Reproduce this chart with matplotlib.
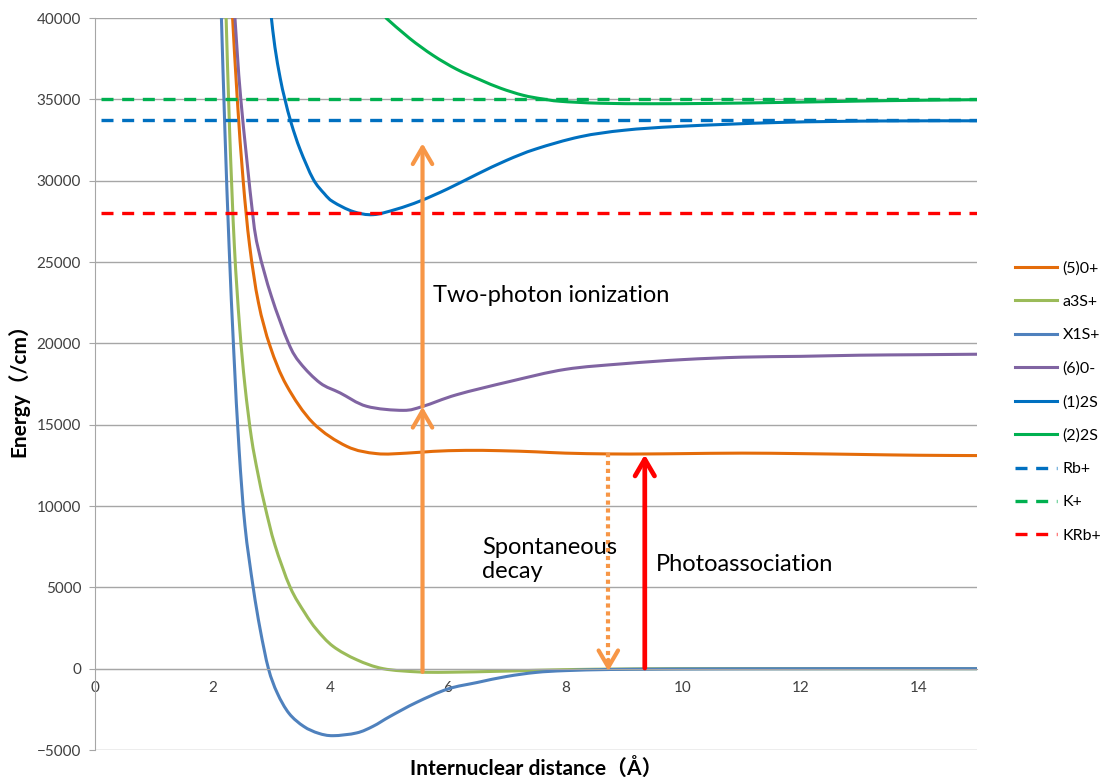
import matplotlib.pyplot as plt
import numpy as np
from matplotlib.path import Path
from matplotlib.patches import PathPatch
from matplotlib.lines import Line2D

# potential curves (x in Angstrom, energy in /cm)
x_50p = [2.34, 2.42, 2.52, 2.63, 2.78, 2.98, 3.26, 3.71, 4.28, 4.79, 5.3, 5.75, 6.3, 6.89,
         7.5, 8.0, 8.75, 9.4, 10, 11, 12, 13, 14, 15]
e_50p = [40000, 35000, 30000, 26000, 22500, 19800, 17400, 15100, 13670, 13220, 13250, 13360,
         13420, 13400, 13330, 13250, 13200, 13200, 13220, 13250, 13220, 13170, 13120, 13100]

x_a3s = [2.23, 2.29, 2.37, 2.46, 2.55, 2.66, 2.77, 2.89, 3.06, 3.32, 3.57, 3.77, 4.05, 4.45,
         4.9, 5.5, 6.0, 7, 8, 9, 10, 12, 15]
e_a3s = [40000, 33000, 26000, 21000, 17400, 14200, 12000, 10000, 7600, 5000, 3420, 2400,
         1370, 550, 0, -200, -220, -150, -60, -20, 0, 0, 0]

x_x1s = [2.15, 2.21, 2.28, 2.36, 2.45, 2.55, 2.69, 2.81, 2.95, 3.10, 3.30, 3.55, 3.80, 4.05,
         4.45, 4.73, 5.02, 5.47, 6.0, 6.5, 7.0, 7.5, 8.0, 8.75, 9.5, 10, 11, 12, 13, 15]
e_x1s = [40000, 33000, 26000, 19500, 13500, 8800, 5000, 2400, 0, -1500, -2750, -3550, -3970,
         -4120, -3950, -3540, -2930, -2070, -1250, -850, -480, -230, -120, -50, -30, -20,
         -10, -5, 0, 0]

x_60m = [2.38, 2.48, 2.68, 2.78, 3.0, 3.29, 3.49, 3.83, 4.17, 4.62, 5.24, 5.58, 6.15,
         7.06, 8, 9, 10, 11, 12, 13, 14, 15]
e_60m = [40000, 35000, 28000, 25760, 22890, 20020, 18790, 17560, 16950, 16130, 15880,
         16130, 16840, 17660, 18400, 18750, 19000, 19150, 19200, 19270, 19300, 19330]

x_12s = [3.0, 3.06, 3.15, 3.23, 3.34, 3.49, 3.71, 3.9, 4.05, 4.39, 4.73, 5.13, 5.53, 6.0,
         6.5, 7.0, 7.5, 8.25, 9.0, 9.95, 11.65, 13.35, 15]
e_12s = [40000, 38200, 36300, 35000, 33500, 31900, 30100, 29200, 28700, 28100, 27910, 28250,
         28750, 29500, 30400, 31250, 31950, 32700, 33100, 33340, 33580, 33670, 33680]

x_22s = [4.95, 5.35, 5.75, 6.15, 6.55, 6.9, 7.28, 7.6, 7.91, 8.59, 9.5, 10.5, 11.5, 12.5,
         13.5, 15]
e_22s = [40000, 38750, 37700, 36850, 36200, 35680, 35250, 35030, 34880, 34760, 34730, 34750,
         34800, 34860, 34920, 34980]

# ion thresholds
x_ion = [0.1, 15]
e_rb = 33700
e_k = 35000
e_krb = 28000

# transitions
x_two = 5.57
e_two = [-200, 16100, 32300]
x_decay = 8.73
e_decay = [13260, -160]
x_pa = 9.35
e_pa = [40, 13160]

plt.rcParams['font.family'] = ['Lato', 'Noto Sans CJK SC', 'DejaVu Sans']


def smooth_path(xs, ys):
    # Excel-like smoothed line: cubic Bezier segments through the points
    p = np.column_stack([xs, ys]).astype(float)
    n = len(p)
    verts = [p[0]]
    codes = [Path.MOVETO]
    for i in range(n - 1):
        p0 = p[i - 1] if i > 0 else p[i]
        p3 = p[i + 2] if i + 2 < n else p[i + 1]
        c1 = p[i] + (p[i + 1] - p0) / 6
        c2 = p[i + 1] - (p3 - p[i]) / 6
        verts += [c1, c2, p[i + 1]]
        codes += [Path.CURVE4] * 3
    return Path(verts, codes)


fig = plt.figure(figsize=(11.07, 7.80), dpi=100)
ax = fig.add_axes([95/1107, 1 - 750/780, (977 - 95)/1107, (750 - 18)/780])

lw = 2.2
curves = [(x_50p, e_50p, '#E46C0A', '(5)0+'),
          (x_a3s, e_a3s, '#9BBB59', 'a3S+'),
          (x_x1s, e_x1s, '#4F81BD', 'X1S+'),
          (x_60m, e_60m, '#8064A2', '(6)0-'),
          (x_12s, e_12s, '#0070C0', '(1)2S'),
          (x_22s, e_22s, '#00B050', '(2)2S')]
handles = []
for xs, es, c, name in curves:
    ax.add_patch(PathPatch(smooth_path(xs, es), fill=False, edgecolor=c, lw=lw,
                           capstyle='round', joinstyle='round'))
    handles.append(Line2D([], [], color=c, lw=lw, label=name))

for e, c, name in [(e_rb, '#0070C0', 'Rb+'), (e_k, '#00B050', 'K+'), (e_krb, '#FF0000', 'KRb+')]:
    h, = ax.plot(x_ion, [e, e], color=c, lw=2.4, dashes=(3.6, 2.6), label=name)
    handles.append(h)

head = '->,head_length=0.6,head_width=0.35'
orange = '#F79646'
# two-photon ionization
ax.annotate('', xy=(x_two, e_two[1]), xytext=(x_two, e_two[0]),
            arrowprops=dict(arrowstyle=head, color=orange, lw=3, mutation_scale=20,
                            shrinkA=0, shrinkB=0))
ax.annotate('', xy=(x_two, e_two[2]), xytext=(x_two, e_two[1]),
            arrowprops=dict(arrowstyle=head, color=orange, lw=3, mutation_scale=20,
                            shrinkA=0, shrinkB=0))
# spontaneous decay (dotted shaft, solid head)
ax.plot([x_decay, x_decay], [e_decay[0], e_decay[1] + 600], color=orange, lw=3,
        linestyle=(0, (1, 0.9)))
ax.annotate('', xy=(x_decay, e_decay[1]), xytext=(x_decay, e_decay[1] + 700),
            arrowprops=dict(arrowstyle=head, color=orange, lw=3, mutation_scale=20,
                            shrinkA=0, shrinkB=0))
# photoassociation
ax.annotate('', xy=(x_pa, e_pa[1]), xytext=(x_pa, e_pa[0]),
            arrowprops=dict(arrowstyle=head, color='#FF0000', lw=3.4, mutation_scale=20,
                            shrinkA=0, shrinkB=0))

ax.text(5.75, 22930, 'Two-photon ionization', fontsize=17, va='center')
ax.text(6.58, 6700, 'Spontaneous\ndecay', fontsize=17, va='center', linespacing=1.15)
ax.text(9.54, 6390, 'Photoassociation', fontsize=17, va='center')

ax.set_xlim(0, 15)
ax.set_ylim(-5000, 40000)
ax.set_yticks(np.arange(-5000, 40001, 5000))
ax.set_xticks(np.arange(0, 15, 2))
ax.grid(axis='y', color='#A6A6A6', lw=1)
ax.set_axisbelow(True)
for s in ['top', 'right']:
    ax.spines[s].set_visible(False)
ax.spines['left'].set_color('#A6A6A6')
ax.spines['bottom'].set_position(('data', 0))
ax.spines['bottom'].set_color('#A6A6A6')
ax.tick_params(axis='x', length=0, labelsize=11, labelcolor='#404040', pad=9)
ax.tick_params(axis='y', length=4, color='#A6A6A6', labelsize=11, labelcolor='#404040', pad=6)

fig.text(536/1107, 1 - 768/780, 'Internuclear distance（Å）', fontsize=15,
         fontweight='bold', ha='center', va='center')
fig.text(18/1107, 1 - 385/780, 'Energy（/cm）', fontsize=15, fontweight='bold',
         ha='center', va='center', rotation=90)

ax.legend(handles=handles, loc='center left', bbox_to_anchor=(1001/1107, 1 - 402/780),
          bbox_transform=fig.transFigure, frameon=False, fontsize=11.5,
          handlelength=2.6, labelspacing=1.2, handletextpad=0.35)

plt.savefig('out.png', dpi=100)
